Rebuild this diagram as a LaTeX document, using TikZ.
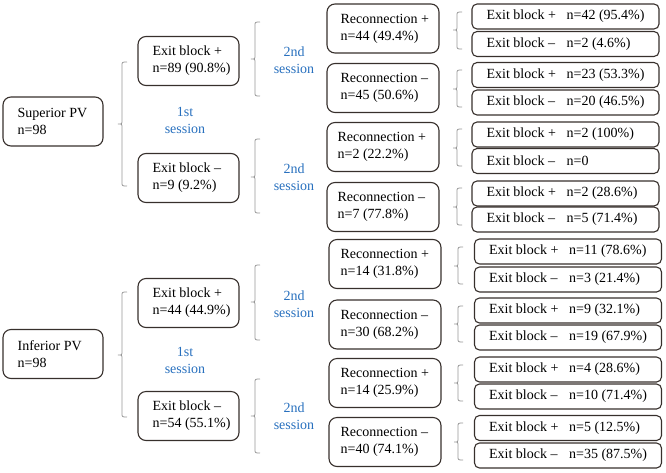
\documentclass[tikz,border=0pt]{standalone}
\usepackage{fontspec}
\setmainfont{Liberation Serif}
\definecolor{boxline}{RGB}{55,48,44}
\definecolor{sessblue}{RGB}{40,112,190}
\definecolor{brgray}{RGB}{150,150,150}
\newcommand{\mybrace}[4]{% x, top, mid, bottom
  \draw[brgray, line width=0.8pt] (#1+5,#2) .. controls (#1,#2) .. (#1,#2+4) -- (#1,#3-2) .. controls (#1,#3) .. (#1-4,#3) .. controls (#1,#3) .. (#1,#3+2) -- (#1,#4-4) .. controls (#1,#4) .. (#1+5,#4);}
% name, position, style, left padding, text
\newcommand{\mybox}[5]{%
  \node[#3] (#1) at (#2) {};
  \node[txt] (#1t) at ([xshift=#4]#1.west) {#5};}
\newcommand{\ex}[2]{\makebox[80pt][l]{#1}#2}
\begin{document}
\begin{tikzpicture}[x=1pt,y=-1pt,
  font=\fontsize{14}{17}\selectfont,
  bigbox/.style={draw=boxline, line width=1.1pt, rounded corners=8pt, inner sep=0pt},
  pvbox/.style={bigbox, minimum width=100pt, minimum height=49pt},
  ebbox/.style={bigbox, minimum width=101pt, minimum height=49pt},
  rcbox/.style={bigbox, minimum width=112pt, minimum height=49pt},
  exbox/.style={draw=boxline, line width=1.1pt, rounded corners=5pt, inner sep=0pt, minimum width=187pt, minimum height=25pt},
  txt/.style={anchor=west, align=left, inner sep=0pt},
  sess/.style={text=sessblue, align=center, inner sep=0pt}]
\useasboundingbox (0,0) rectangle (666,472);

% ---------- Superior ----------
\mybox{spv}{53,121.5}{pvbox}{15pt}{Superior PV\\n=98}
\mybox{sep}{188.5,61}{ebbox}{15pt}{Exit block +\\n=89 (90.8\%)}
\mybox{sem}{188.5,178}{ebbox}{15pt}{Exit block --\\n=9 (9.2\%)}
\mybrace{122}{62}{124}{186}
\node[sess] (s1a) at (185,120) {1st\\session};

\mybrace{255}{22}{59}{96}
\node[sess] (s2a) at (294,60) {2nd\\session};
\mybrace{255}{139}{177}{213}
\node[sess] (s2b) at (294,177.5) {2nd\\session};

\mybox{r1}{383,28.5}{rcbox}{14pt}{Reconnection +\\n=44 (49.4\%)}
\mybox{r2}{383,88}{rcbox}{14pt}{Reconnection --\\n=45 (50.6\%)}
\mybox{r3}{383,147}{rcbox}{11pt}{Reconnection +\\n=2 (22.2\%)}
\mybox{r4}{383,207}{rcbox}{11pt}{Reconnection --\\n=7 (77.8\%)}

\mybox{x1}{565.5,16.5}{exbox}{15pt}{\ex{Exit block +}{n=42 (95.4\%)}}
\mybox{x2}{565.5,44}{exbox}{15pt}{\ex{Exit block --}{n=2 (4.6\%)}}
\mybox{x3}{565.5,75}{exbox}{15pt}{\ex{Exit block +}{n=23 (53.3\%)}}
\mybox{x4}{565.5,102.5}{exbox}{15pt}{\ex{Exit block --}{n=20 (46.5\%)}}
\mybox{x5}{565.5,134.5}{exbox}{15pt}{\ex{Exit block +}{n=2 (100\%)}}
\mybox{x6}{565.5,161}{exbox}{15pt}{\ex{Exit block --}{n=0}}
\mybox{x7}{565.5,193.5}{exbox}{15pt}{\ex{Exit block +}{n=2 (28.6\%)}}
\mybox{x8}{565.5,219.5}{exbox}{15pt}{\ex{Exit block --}{n=5 (71.4\%)}}

\mybrace{457}{12}{30}{49}
\mybrace{457}{70}{89}{107}
\mybrace{457}{129}{148}{166}
\mybrace{457}{188}{207}{225}

% ---------- Inferior ----------
\mybox{ipv}{53,354}{pvbox}{15pt}{Inferior PV\\n=98}
\mybox{iep}{188.5,303}{ebbox}{15pt}{Exit block +\\n=44 (44.9\%)}
\mybox{iem}{188.5,416}{ebbox}{15pt}{Exit block --\\n=54 (55.1\%)}
\mybrace{122}{292}{355}{417}
\node[sess] (s1b) at (185,360) {1st\\session};

\mybrace{255}{265}{302}{340}
\node[sess] (s2c) at (294,304.5) {2nd\\session};
\mybrace{255}{379}{416}{453}
\node[sess] (s2d) at (294,416) {2nd\\session};

\mybox{r5}{385,264}{rcbox}{12pt}{Reconnection +\\n=14 (31.8\%)}
\mybox{r6}{385,324.5}{rcbox}{12pt}{Reconnection --\\n=30 (68.2\%)}
\mybox{r7}{385,383}{rcbox}{12pt}{Reconnection +\\n=14 (25.9\%)}
\mybox{r8}{385,442}{rcbox}{12pt}{Reconnection --\\n=40 (74.1\%)}

\mybox{y1}{568,251.5}{exbox}{15pt}{\ex{Exit block +}{n=11 (78.6\%)}}
\mybox{y2}{568,279.5}{exbox}{15pt}{\ex{Exit block --}{n=3 (21.4\%)}}
\mybox{y3}{568,310.5}{exbox}{15pt}{\ex{Exit block +}{n=9 (32.1\%)}}
\mybox{y4}{568,337.5}{exbox}{15pt}{\ex{Exit block --}{n=19 (67.9\%)}}
\mybox{y5}{568,369.5}{exbox}{15pt}{\ex{Exit block +}{n=4 (28.6\%)}}
\mybox{y6}{568,396.5}{exbox}{15pt}{\ex{Exit block --}{n=10 (71.4\%)}}
\mybox{y7}{568,428}{exbox}{15pt}{\ex{Exit block +}{n=5 (12.5\%)}}
\mybox{y8}{568,455.5}{exbox}{15pt}{\ex{Exit block --}{n=35 (87.5\%)}}

\mybrace{458}{247}{266}{284}
\mybrace{458}{306}{324}{342}
\mybrace{458}{365}{383}{401}
\mybrace{458}{423}{442}{460}
\end{tikzpicture}
\end{document}
